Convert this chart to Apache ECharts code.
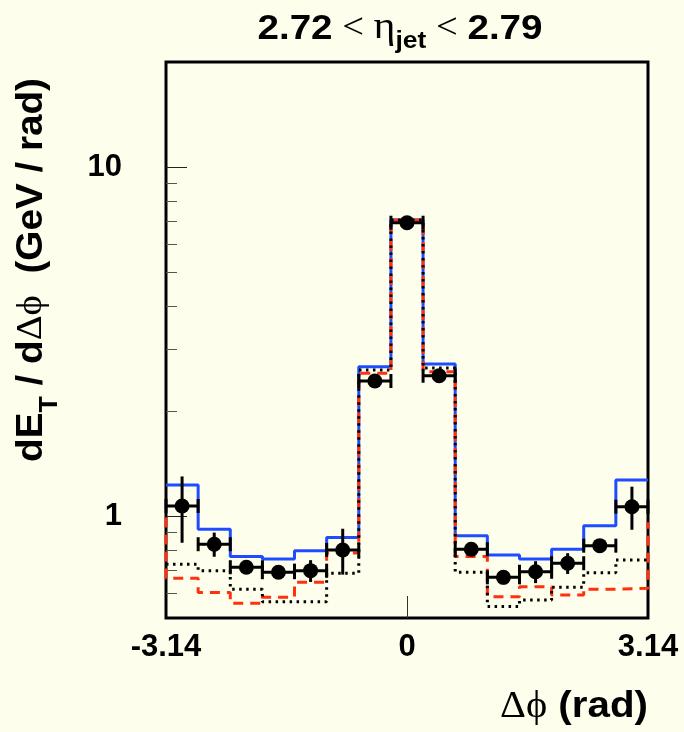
<!DOCTYPE html>
<html>
<head>
<meta charset="utf-8">
<script src="https://cdn.jsdelivr.net/npm/echarts@6/dist/echarts.min.js"></script>
<style>
  html, body { margin: 0; padding: 0; background: #fdfeec; }
  #chart { width: 684px; height: 732px; }
</style>
</head>
<body>
<div id="chart"></div>
<script>
// Δφ bins (15 bins over [-π, π])
const binCenters = [-2.932, -2.513, -2.094, -1.676, -1.257, -0.838, -0.419, 0,
                    0.419, 0.838, 1.257, 1.676, 2.094, 2.513, 2.932];
const binHalfWidth = 0.2094;

// measured dE_T / dΔφ with statistical errors
const dataValues = [1.068, 0.830, 0.713, 0.690, 0.697, 0.799, 2.437, 6.925,
                    2.523, 0.803, 0.667, 0.692, 0.732, 0.822, 1.063];
const dataErrors = [0.23, 0.066, 0.03, 0.03, 0.05, 0.12, 0.08, 0.2,
                    0.08, 0.03, 0.03, 0.05, 0.05, 0.03, 0.15];

// model curves (histograms)
const modelSolid  = [1.227, 0.916, 0.765, 0.753, 0.795, 0.867, 2.678, 7.047,
                     2.726, 0.878, 0.773, 0.753, 0.803, 0.938, 1.268];
const modelDashed = [0.663, 0.603, 0.562, 0.585, 0.646, 0.783, 2.564, 7.047,
                     2.591, 0.765, 0.587, 0.627, 0.594, 0.617, 0.621];
const modelDotted = [0.727, 0.697, 0.617, 0.568, 0.568, 0.685, 2.620, 7.047,
                     2.655, 0.690, 0.550, 0.574, 0.625, 0.688, 0.748];
// dashed histogram continues past the plotted range on both sides
const dashedOutside = [0.99, 0.96];

// axes
const xTickValues = [-Math.PI, 0, Math.PI];
const xTickLabels = ['-3.14', '0', '3.14'];
const yMajorTicks = [1, 10];
const yMinorTicks = [0.6, 0.7, 0.8, 0.9, 2, 3, 4, 5, 6, 7, 8, 9];
const yRange = [0.51, 20];

const SANS = '"Liberation Sans", Arial, Helvetica, sans-serif';
const SERIF = '"Liberation Serif", "DejaVu Serif", serif';

function stepPoints(vals, outside) {
  const pts = [];
  if (outside) pts.push([binCenters[0] - binHalfWidth, outside[0]]);
  vals.forEach((v, i) => {
    pts.push([binCenters[i] - binHalfWidth, v]);
    pts.push([binCenters[i] + binHalfWidth, v]);
  });
  if (outside) pts.push([binCenters[binCenters.length - 1] + binHalfWidth, outside[1]]);
  return pts;
}

// text layout helpers: labels assembled from pieces sharing one baseline (y = 0)
const mctx = document.createElement('canvas').getContext('2d');
function fontStr(t) { return (t.weight || 'normal') + ' ' + t.size + 'px ' + t.family; }
function buildTokens(tokens) {
  let x = 0;
  const children = [];
  tokens.forEach(t => {
    mctx.font = fontStr(t);
    const w = mctx.measureText(t.text).width;
    children.push({
      type: 'text', x: x, y: (t.dy || 0) - 0.345 * t.size,
      style: { text: t.text, font: fontStr(t), fill: '#000',
               align: 'left', verticalAlign: 'middle' }
    });
    x += w;
  });
  return { children, width: x };
}

const titleTokens = [
  { text: '2.72', size: 35, weight: 'bold', family: SANS },
  { text: ' < ', size: 35, family: SERIF },
  { text: 'η', size: 38, family: SERIF },
  { text: 'jet', size: 24, weight: 'bold', family: SANS, dy: 9 },
  { text: ' < ', size: 35, family: SERIF },
  { text: '2.79', size: 35, weight: 'bold', family: SANS }
];
const xTitleTokens = [
  { text: 'Δϕ', size: 37, family: SERIF },
  { text: ' (rad)', size: 37, weight: 'bold', family: SANS }
];
const yTitleTokens = [
  { text: 'dE', size: 36, weight: 'bold', family: SANS },
  { text: 'T', size: 25, weight: 'bold', family: SANS, dy: 15 },
  { text: ' / d', size: 36, weight: 'bold', family: SANS },
  { text: 'Δϕ', size: 36, family: SERIF },
  { text: '  (GeV / rad)', size: 36, weight: 'bold', family: SANS }
];

const title = buildTokens(titleTokens);
const xTitle = buildTokens(xTitleTokens);
const yTitle = buildTokens(yTitleTokens);
const titleScale = 285 / title.width;
const xTitleScale = 148 / xTitle.width;
const yTitleScale = 384 / yTitle.width;

const chart = echarts.init(document.getElementById('chart'), null, { renderer: 'canvas' });

const errorBarSeries = {
  type: 'custom',
  z: 5,
  data: binCenters.map((c, i) => [c, dataValues[i], dataErrors[i]]),
  renderItem: function (params, api) {
    const x = api.value(0), y = api.value(1), e = api.value(2);
    const l = api.coord([x - binHalfWidth, y]);
    const r = api.coord([x + binHalfWidth, y]);
    const t = api.coord([x, y + e]);
    const b = api.coord([x, y - e]);
    const cap = 7;
    const st = { stroke: '#000', lineWidth: 3 };
    return {
      type: 'group',
      children: [
        { type: 'line', shape: { x1: l[0], y1: l[1], x2: r[0], y2: r[1] }, style: st },
        { type: 'line', shape: { x1: l[0], y1: l[1] - cap, x2: l[0], y2: l[1] + cap }, style: st },
        { type: 'line', shape: { x1: r[0], y1: r[1] - cap, x2: r[0], y2: r[1] + cap }, style: st },
        { type: 'line', shape: { x1: t[0], y1: t[1], x2: b[0], y2: b[1] }, style: st }
      ]
    };
  }
};

const option = {
  backgroundColor: '#fdfeec',
  animation: false,
  grid: {
    left: 166, top: 62, width: 482, height: 556,
    show: true, borderColor: '#000', borderWidth: 3, backgroundColor: 'transparent'
  },
  xAxis: {
    type: 'value', min: -Math.PI, max: Math.PI,
    axisLine: { show: false, onZero: false },
    splitLine: { show: false },
    axisTick: { show: true, inside: true, length: 22, customValues: [0],
                lineStyle: { color: '#333', width: 1 } },
    axisLabel: {
      customValues: xTickValues,
      formatter: v => xTickLabels[xTickValues.findIndex(t => Math.abs(t - v) < 1e-6)],
      fontFamily: SANS, fontWeight: 'bold', fontSize: 31, color: '#000', margin: 14
    }
  },
  yAxis: [
    {
      type: 'log', logBase: 10, min: yRange[0], max: yRange[1], position: 'left',
      axisLine: { show: false, onZero: false }, splitLine: { show: false },
      axisTick: { show: true, inside: true, length: 21, customValues: yMajorTicks,
                  lineStyle: { color: '#222', width: 1 } },
      axisLabel: {
        customValues: yMajorTicks,
        formatter: v => String(Math.round(v)),
        fontFamily: SANS, fontWeight: 'bold', fontSize: 31, color: '#000', margin: 44
      }
    },
    {
      type: 'log', logBase: 10, min: yRange[0], max: yRange[1], position: 'left',
      axisLine: { show: false, onZero: false }, splitLine: { show: false },
      axisTick: { show: true, inside: true, length: 11, customValues: yMinorTicks,
                  lineStyle: { color: '#555', width: 1 } },
      axisLabel: { show: false }
    }
  ],
  series: [
    {
      type: 'line', data: stepPoints(modelSolid), showSymbol: false, z: 2,
      lineStyle: { color: '#1f4cff', width: 3 }
    },
    {
      type: 'line', data: stepPoints(modelDashed, dashedOutside), showSymbol: false, z: 3,
      lineStyle: { color: '#ff3010', width: 3, type: [10, 7] }
    },
    {
      type: 'line', data: stepPoints(modelDotted), showSymbol: false, z: 4,
      lineStyle: { color: '#000', width: 3, type: [2.5, 4.5] }
    },
    errorBarSeries,
    {
      type: 'scatter', z: 6,
      data: binCenters.map((c, i) => [c, dataValues[i]]),
      symbol: 'circle', symbolSize: 15,
      itemStyle: { color: '#000', opacity: 1 }
    }
  ],
  graphic: [
    { type: 'group', x: 400 - title.width * titleScale / 2, y: 41, scaleX: titleScale,
      children: title.children },
    { type: 'group', x: 648 - xTitle.width * xTitleScale, y: 720, scaleX: xTitleScale,
      children: xTitle.children },
    { type: 'group', x: 44, y: 270 + yTitle.width * yTitleScale / 2, scaleX: yTitleScale,
      rotation: Math.PI / 2, children: yTitle.children }
  ]
};

chart.setOption(option);
</script>
</body>
</html>
